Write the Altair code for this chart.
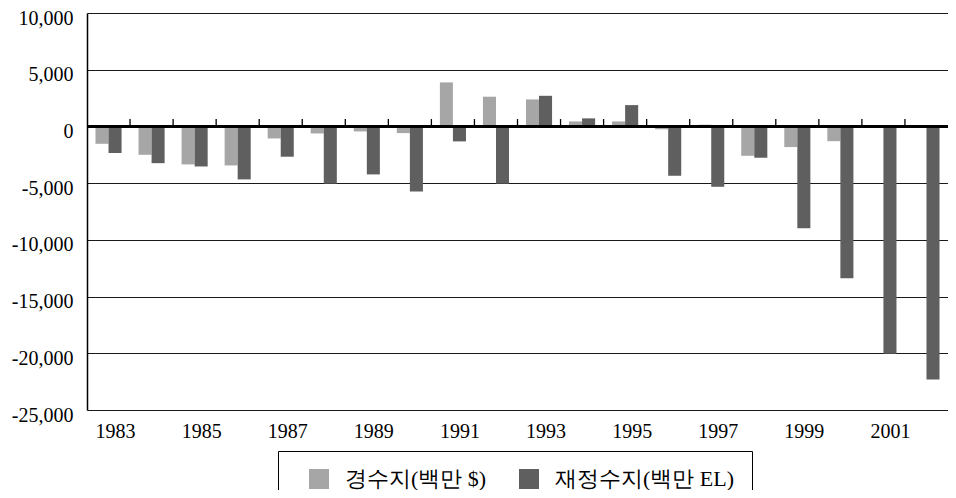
import altair as alt
import pandas as pd

years = [str(y) for y in range(1983, 2003)]
current_balance = [-1530, -2500, -3350, -3440, -1060, -620, -440, -590, 3880, 2620,
                   2380, 440, 440, -250, 150, -2590, -1820, -1300, None, None]
fiscal_balance = [-2350, -3240, -3530, -4670, -2670, -5050, -4230, -5730, -1320, -5050,
                  2700, 710, 1880, -4350, -5320, -2760, -8970, -13380, -20050, -22310]
series_names = ["경수지(백만 $)", "재정수지(백만 EL)"]
series_colors = ["#a6a6a6", "#5f5f5f"]
y_ticks = [10000, 5000, 0, -5000, -10000, -15000, -20000, -25000]
x_label_years = [str(y) for y in range(1983, 2003, 2)]

rows = []
for i, yr in enumerate(years):
    rows.append({"year": yr, "series": series_names[0], "value": current_balance[i]})
    rows.append({"year": yr, "series": series_names[1], "value": fiscal_balance[i]})
df = pd.DataFrame(rows)
tick_df = pd.DataFrame({"year": years[1:]})

FONT = "Liberation Serif"

x_scale = alt.Scale(domain=years, paddingInner=0, paddingOuter=0)
y_scale = alt.Scale(domain=[-25000, 10000], nice=False, zero=False)

bars = alt.Chart(df).mark_bar(strokeWidth=0).encode(
    x=alt.X("year:N", scale=x_scale, sort=years,
            axis=alt.Axis(title=None, values=x_label_years, domain=False, ticks=False,
                          labelAngle=0, labelFont=FONT, labelFontSize=20, labelColor="black",
                          labelPadding=11, labelOffset=7, grid=False)),
    xOffset=alt.XOffset("series:N", sort=series_names,
                        scale=alt.Scale(domain=series_names, paddingInner=0, paddingOuter=0.65)),
    y=alt.Y("value:Q", scale=y_scale,
            axis=alt.Axis(title=None, values=y_ticks, tickSize=0, domain=True, domainColor="black",
                          domainWidth=1.5, grid=True, gridColor="#1a1a1a", gridWidth=1.2,
                          gridOpacity=1, labelFont=FONT, labelFontSize=20, labelColor="black",
                          labelPadding=14, labelOffset=5,
                          labelExpr="(datum.value < 0 ? '-' : '') + format(abs(datum.value), ',')")),
    color=alt.Color("series:N", sort=series_names,
                    scale=alt.Scale(domain=series_names, range=series_colors),
                    legend=alt.Legend(title=None, orient="none", legendX=191, legendY=438,
                                      direction="horizontal", strokeColor="black", fillColor="white",
                                      padding=17, symbolOffset=13, symbolType="square", symbolSize=400,
                                      symbolStrokeWidth=0, labelFont=FONT, labelFontSize=22,
                                      labelLimit=400, labelColor="black", labelOffset=15,
                                      columnPadding=18)),
)

zero_line = alt.Chart(tick_df).mark_rule(color="black", strokeWidth=1.6).encode(
    y=alt.datum(0)
)

ticks = alt.Chart(tick_df).mark_rule(color="black", strokeWidth=1.3).encode(
    x=alt.X("year:N", bandPosition=0),
    y=alt.datum(0),
    y2=alt.datum(650),
)

chart = alt.layer(bars, zero_line, ticks).properties(
    width=861, height=397,
    autosize=alt.AutoSizeParams(type="none"),
    padding={"left": 79, "top": 5, "right": 0, "bottom": 80},
).configure_view(stroke=None).configure(background="white")

chart.save("out.html", embed_options={"renderer": "svg", "actions": False})
